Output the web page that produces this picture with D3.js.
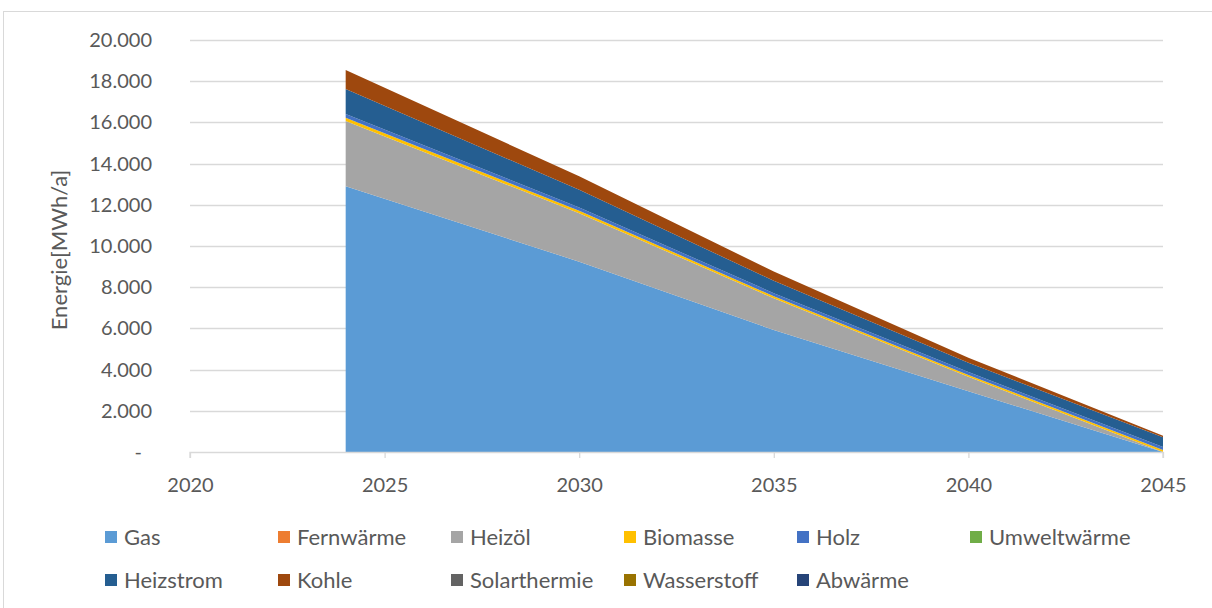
<!DOCTYPE html>
<html>
<head>
<meta charset="utf-8">
<script src="https://cdn.jsdelivr.net/npm/d3@7"></script>
<style>
  html, body { margin: 0; padding: 0; background: #fff; }
  svg { display: block; }
  text { font-family: Lato, "Open Sans", sans-serif; fill: #595959; }
</style>
</head>
<body>
<svg id="chart" width="1212" height="608"></svg>
<script>
// ---- data ----
const years = [2024, 2030, 2035, 2040, 2045];
const seriesNames = ["Gas", "Fernwärme", "Heizöl", "Biomasse", "Holz", "Umweltwärme",
                     "Heizstrom", "Kohle", "Solarthermie", "Wasserstoff", "Abwärme"];
const gas          = [12900, 9240, 5920, 2950, 0];
const fernwaerme   = [0, 0, 0, 0, 0];
const heizoel      = [3170, 2350, 1540, 700, 0];
const biomasse     = [160, 120, 100, 90, 100];
const holz         = [180, 160, 150, 140, 140];
const umweltwaerme = [0, 0, 0, 0, 0];
const heizstrom    = [1210, 860, 600, 450, 480];
const kohle        = [920, 650, 450, 250, 70];
const solarthermie = [0, 0, 0, 0, 0];
const wasserstoff  = [0, 0, 0, 0, 0];
const abwaerme     = [0, 0, 0, 0, 0];
const seriesValues = [gas, fernwaerme, heizoel, biomasse, holz, umweltwaerme,
                      heizstrom, kohle, solarthermie, wasserstoff, abwaerme];
const colors = ["#5B9BD5", "#ED7D31", "#A5A5A5", "#FFC000", "#4472C4", "#70AD47",
                "#255E91", "#9E480E", "#636363", "#997300", "#264478"];
const xTicks = [2020, 2025, 2030, 2035, 2040, 2045];
const yTicks = [0, 2000, 4000, 6000, 8000, 10000, 12000, 14000, 16000, 18000, 20000];
const yTitle = "Energie[MWh/a]";

// ---- build table ----
const table = years.map((yr, i) => {
  const row = { year: yr };
  seriesNames.forEach((n, k) => row[n] = seriesValues[k][i]);
  return row;
});

const svg = d3.select("#chart");
const mLeft = 190, mRight = 1163, mTop = 40, mBottom = 452;

const x = d3.scaleLinear().domain([2020, 2045]).range([mLeft, mRight]);
const y = d3.scaleLinear().domain([0, 20000]).range([mBottom, mTop]);

const de = d3.formatLocale({ decimal: ",", thousands: ".", grouping: [3], currency: ["", " €"] });
const fmt = de.format(",.0f");

// chart border
svg.append("rect")
  .attr("x", 3.5).attr("y", 11.5).attr("width", 1230).attr("height", 620)
  .attr("fill", "none").attr("stroke", "#D9D9D9").attr("stroke-width", 1);

// gridlines
svg.append("g")
  .selectAll("line")
  .data(yTicks.filter(d => d > 0))
  .join("line")
  .attr("x1", mLeft).attr("x2", mRight)
  .attr("y1", d => Math.round(y(d)) + 0.5).attr("y2", d => Math.round(y(d)) + 0.5)
  .attr("stroke", "#D9D9D9").attr("stroke-width", 1.3);

// stacked areas
const stack = d3.stack().keys(seriesNames);
const layers = stack(table);
const area = d3.area()
  .x(d => x(d.data.year))
  .y0(d => y(d[0]))
  .y1(d => y(d[1]));

svg.append("g")
  .selectAll("path")
  .data(layers)
  .join("path")
  .attr("d", area)
  .attr("fill", (d, i) => colors[i]);

// y axis labels
const yAxis = d3.axisLeft(y).tickValues(yTicks).tickSize(0).tickPadding(0)
  .tickFormat(d => d === 0 ? "-" : fmt(d));
const gy = svg.append("g").attr("transform", `translate(152,0)`).call(yAxis);
gy.select(".domain").remove();
gy.selectAll("text")
  .style("font-family", "Lato, 'Open Sans', sans-serif")
  .style("font-size", "20px")
  .attr("fill", "#595959")
  .attr("x", d => d === 0 ? -10 : 0);

// x axis
const xAxis = d3.axisBottom(x).tickValues(xTicks).tickSize(6).tickPadding(20)
  .tickFormat(d3.format("d"));
const gx = svg.append("g").attr("transform", `translate(0,${mBottom})`).call(xAxis);
gx.select(".domain").attr("stroke", "#D9D9D9").attr("stroke-width", 1.3)
  .attr("d", `M${mLeft},6V0.5H${mRight}V6`);
gx.selectAll(".tick line").attr("stroke", "#D9D9D9").attr("stroke-width", 1.3);
gx.selectAll("text")
  .style("font-family", "Lato, 'Open Sans', sans-serif")
  .style("font-size", "20px")
  .attr("fill", "#595959");

// y title
svg.append("text")
  .attr("transform", `translate(61,${(mTop + mBottom) / 2 + 4}) rotate(-90)`)
  .attr("text-anchor", "middle")
  .attr("dominant-baseline", "middle")
  .style("font-size", "22px")
  .text(yTitle);

// legend
const legX0 = 105, legDX = 173, legY = [537, 580];
const leg = svg.append("g")
  .selectAll("g")
  .data(seriesNames)
  .join("g")
  .attr("transform", (d, i) => `translate(${legX0 + (i % 6) * legDX},${legY[Math.floor(i / 6)]})`);
leg.append("rect")
  .attr("x", 0).attr("y", -6).attr("width", 12).attr("height", 12)
  .attr("fill", (d, i) => colors[i]);
leg.append("text")
  .attr("x", 19).attr("y", 0).attr("dy", "0.35em")
  .style("font-size", "22px")
  .text(d => d);
</script>
</body>
</html>
